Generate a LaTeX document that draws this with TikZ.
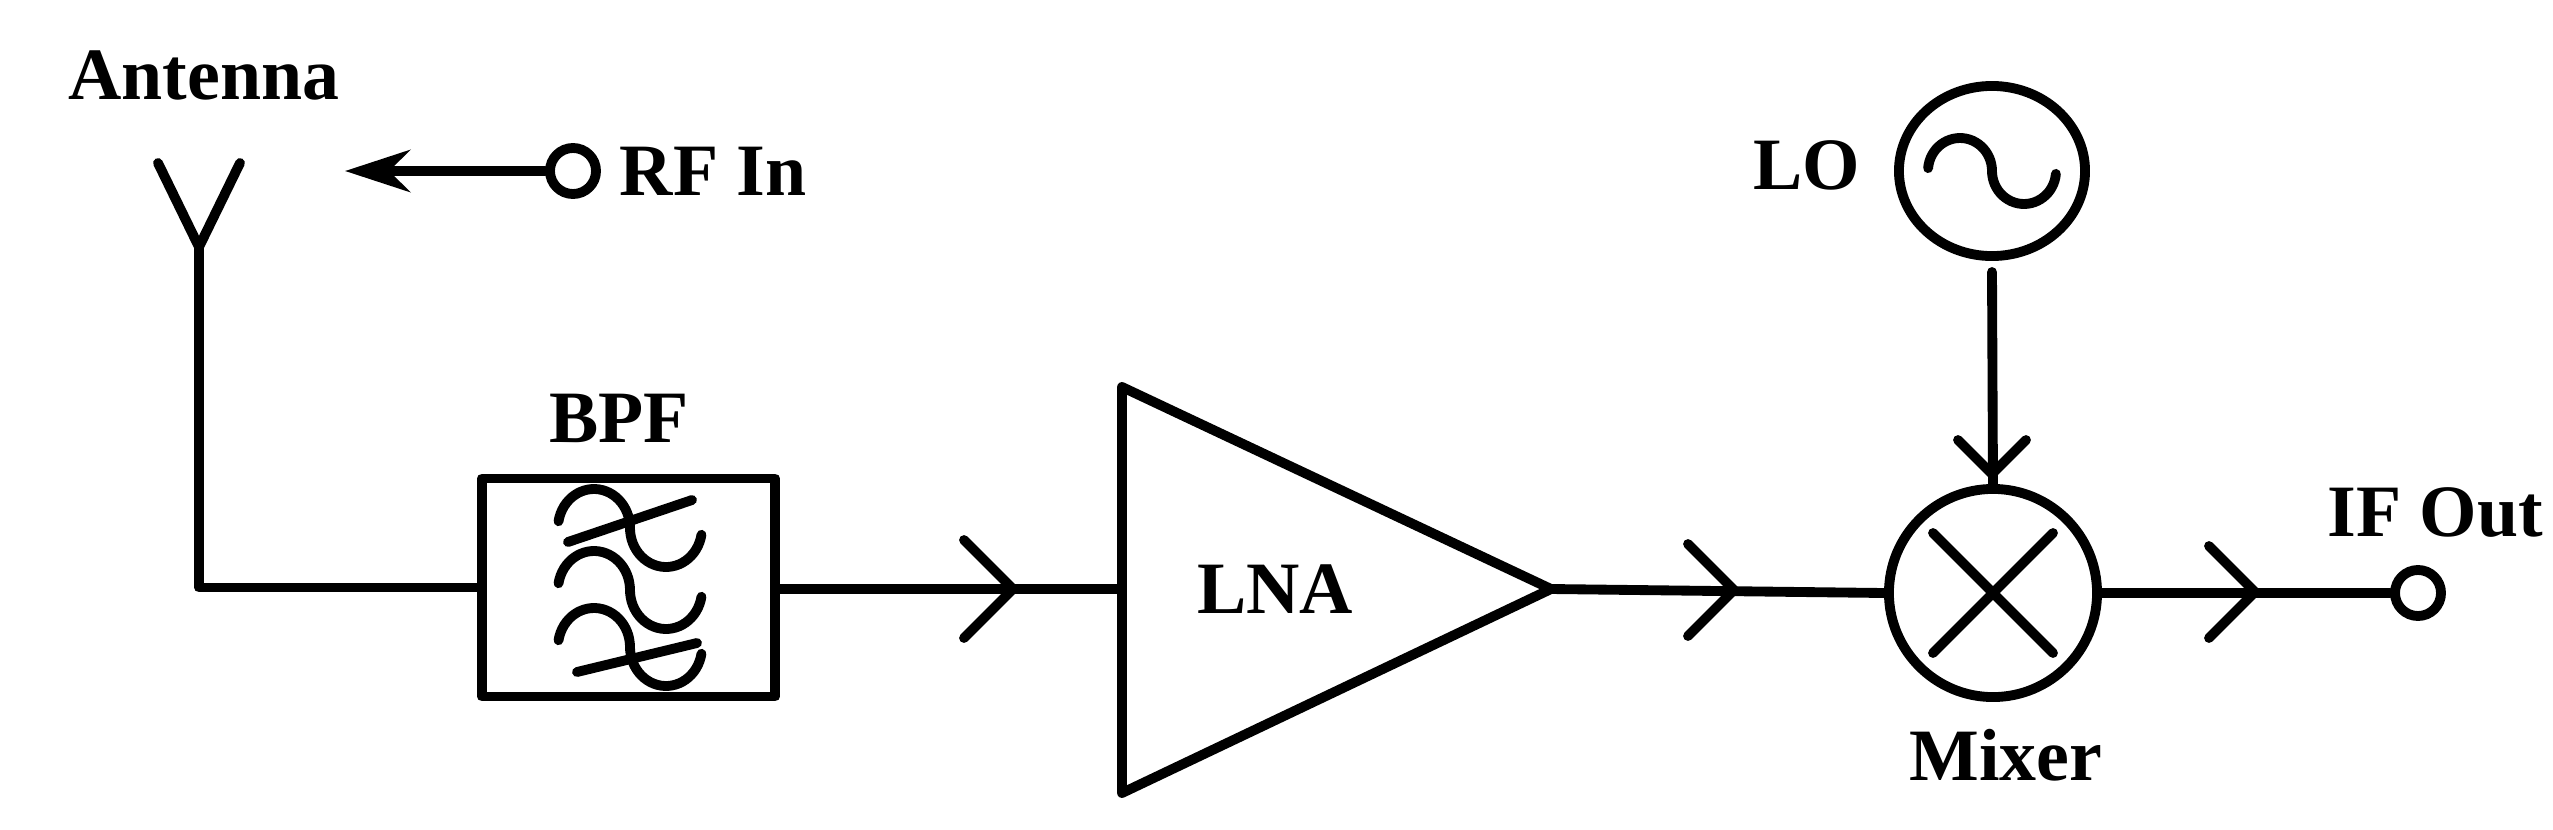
\documentclass[tikz,border=0pt]{standalone}
\usepackage{fontspec}
\setmainfont{Liberation Serif}
\usetikzlibrary{arrows.meta,shapes.geometric}
\begin{document}
\begin{tikzpicture}[x=0.01cm,y=-0.01cm,line width=2.8pt,line cap=round,line join=round,
  lbl/.style={font=\fontsize{21}{24}\selectfont\bfseries,inner sep=0pt},
  term/.style={circle,draw,minimum size=0.46cm,inner sep=0pt},
  chev/.style={line width=2.8pt}]
\useasboundingbox (0,0) rectangle (2553,830);
% antenna
\coordinate (ant) at (199,247);
\coordinate (armL) at (158,163);
\coordinate (armR) at (240,163);
\draw (armL) -- (ant) -- (armR);
\node[lbl] (antl) at (204,75) {Antenna};
% RF in
\node[term] (rfin) at (573,171) {};
\coordinate (rftip) at (345,171);
\draw[-{Stealth[length=0.65cm,width=0.42cm]}] (rfin) -- (rftip);
\node[lbl,anchor=west] (rfl) at (615,171) {RF In};
% BPF
\node[draw,rectangle,minimum width=2.93cm,minimum height=2.18cm,inner sep=0pt] (bpf) at (628.5,587.5) {};
\node[lbl] (bpfl) at (619,418) {BPF};
\foreach \yy in {528,590,647}{
  \draw plot[domain=10:180,samples=30,smooth] ({594-36*cos(\x)},{\yy-39*sin(\x)})
        -- plot[domain=0:170,samples=30,smooth] ({666-36*cos(\x)},{\yy+39*sin(\x)});
}
\draw (568,542) -- (692,500);
\draw (577,672) -- (697,643);
\draw (ant) |- (bpf.west);
% LNA
\coordinate (lnaT) at (1122,387);
\coordinate (lnaB) at (1122,793);
\coordinate (lnaO) at (1551,589);
\coordinate (lnaI) at (1122,589);
\draw (lnaT) -- (lnaO) -- (lnaB) -- cycle;
\node[lbl] (lnal) at (1275,589) {LNA};
\draw (bpf.east |- lnaI) -- (lnaI);
\draw[chev] (964,540) -- (1013,589) -- (964,638);
% mixer
\node[circle,draw,minimum size=2.08cm,inner sep=0pt] (mix) at (1993,593) {};
\draw (mix.center) ++(-60,-60) -- ++(120,120);
\draw (mix.center) ++(60,-60) -- ++(-120,120);
\node[lbl] (mixl) at (2006,755) {Mixer};
\draw (lnaO) -- (mix.west);
\draw[chev] (1688,544) -- (1734,590) -- (1688,636);
% LO
\node[ellipse,draw,minimum width=1.86cm,minimum height=1.7cm,inner sep=0pt] (lo) at (1992,171) {};
\draw plot[domain=5:180,samples=30,smooth] ({1960-32*cos(\x)},{171-33*sin(\x)})
   -- plot[domain=0:175,samples=30,smooth] ({2024-32*cos(\x)},{171+33*sin(\x)});
\node[lbl] (lol) at (1807,165) {LO};
\coordinate (lotop) at (1992,272);
\draw (lotop) -- (mix.north);
\draw[chev] (1958,440) -- (1992,474) -- (2026,440);
% output
\node[term] (ifo) at (2418,593) {};
\draw (mix.east) -- (ifo);
\draw[chev] (2209,546) -- (2255,592) -- (2209,638);
\node[lbl] (ifl) at (2435,512) {IF Out};
\end{tikzpicture}
\end{document}
